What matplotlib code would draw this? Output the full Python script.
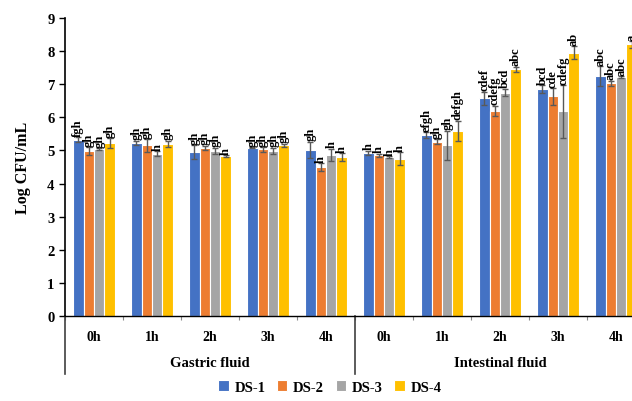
import matplotlib.pyplot as plt
import numpy as np

plt.rcParams['font.family'] = ['Liberation Serif', 'DejaVu Serif']
plt.rcParams['font.weight'] = 'bold'

times = ['0h', '1h', '2h', '3h', '4h']
fluids = ['Gastric fluid', 'Intestinal fluid']
series = ['DS-1', 'DS-2', 'DS-3', 'DS-4']
colors = ['#4472C4', '#ED7D31', '#A5A5A5', '#FFC000']

# gastric 0h..4h, then intestinal 0h..4h
ds1 = [5.33, 5.23, 4.95, 5.08, 5.02, 4.92, 5.47, 6.58, 6.85, 7.25]
ds2 = [4.98, 5.15, 5.07, 5.03, 4.50, 4.85, 5.27, 6.20, 6.63, 7.03]
ds3 = [5.03, 4.90, 4.98, 4.98, 4.87, 4.80, 5.15, 6.75, 6.18, 7.22]
ds4 = [5.22, 5.20, 4.82, 5.15, 4.80, 4.75, 5.60, 7.45, 7.95, 8.20]

err1 = [0.07, 0.07, 0.20, 0.02, 0.25, 0.07, 0.08, 0.20, 0.12, 0.30]
err2 = [0.12, 0.20, 0.07, 0.07, 0.12, 0.05, 0.07, 0.15, 0.25, 0.08]
err3 = [0.03, 0.08, 0.10, 0.10, 0.18, 0.03, 0.45, 0.12, 0.80, 0.03]
err4 = [0.15, 0.10, 0.03, 0.05, 0.12, 0.20, 0.30, 0.08, 0.20, 0.10]

let1 = ['fgh', 'gh', 'gh', 'gh', 'gh', 'h', 'efgh', 'cdef', 'bcd', 'abc']
let2 = ['gh', 'gh', 'gh', 'gh', 'h', 'h', 'gh', 'cdefg', 'cde', 'abc']
let3 = ['gh', 'h', 'gh', 'gh', 'h', 'h', 'gh', 'bcd', 'cdefg', 'abc']
let4 = ['gh', 'gh', 'h', 'gh', 'h', 'h', 'defgh', 'abc', 'ab', 'a']

values = [ds1, ds2, ds3, ds4]
errors = [err1, err2, err3, err4]
letters = [let1, let2, let3, let4]

fig = plt.figure(figsize=(6.32, 4.02), dpi=100)
ax = fig.add_axes([65 / 632, 85 / 402, 580 / 632, 298 / 402])

n = len(ds1)
x = np.arange(n)
w = 0.18
for i in range(4):
    pos = x + (i - 1.5) * w
    ax.bar(pos, values[i], w, color=colors[i], edgecolor='white', linewidth=0.8,
           label=series[i], zorder=2)
    ax.errorbar(pos, values[i], yerr=errors[i], fmt='none', ecolor='#595959',
                elinewidth=1, capsize=2.5, capthick=1, zorder=3)
    for j in range(n):
        ax.text(pos[j], values[i][j] + errors[i][j] + 0.04, letters[i][j],
                rotation=90, ha='center', va='bottom', fontsize=9,
                fontweight='bold')

ax.set_xlim(-0.5, n - 0.5)
ax.set_ylim(0, 9)
ax.set_yticks(range(10))
ax.tick_params(axis='y', labelsize=10.5, direction='out', length=4, width=1)
ax.set_ylabel('Log CFU/mL', fontsize=11.5, fontweight='bold', labelpad=12)
for s in ['top', 'right']:
    ax.spines[s].set_visible(False)
ax.spines['left'].set_linewidth(1.2)
ax.spines['bottom'].set_linewidth(1)

# x ticks at group boundaries
ax.set_xticks(np.arange(-0.5, n, 1))
ax.set_xticklabels([])
ax.tick_params(axis='x', length=3, color='#888888')

# time labels
for j in range(n):
    ax.text(x[j], -0.62, times[j % 5], ha='center', va='center',
            fontsize=10, fontweight='bold', clip_on=False)

# fluid labels and separators
for k, f in enumerate(fluids):
    ax.text(k * 5 + 2, -1.4, f, ha='center', va='center', fontsize=10.5,
            fontweight='bold', clip_on=False)
for b in [-0.5, 4.5, 9.5]:
    ax.plot([b, b], [0, -1.75], color='#404040', lw=1.2, clip_on=False)

fig.legend(loc='center', bbox_to_anchor=(330 / 632, 1 - 388 / 402), ncol=4,
           frameon=False, fontsize=10.5, handlelength=0.7, handleheight=0.7,
           handletextpad=0.4, columnspacing=0.8)

fig.savefig('out.png', dpi=100)
